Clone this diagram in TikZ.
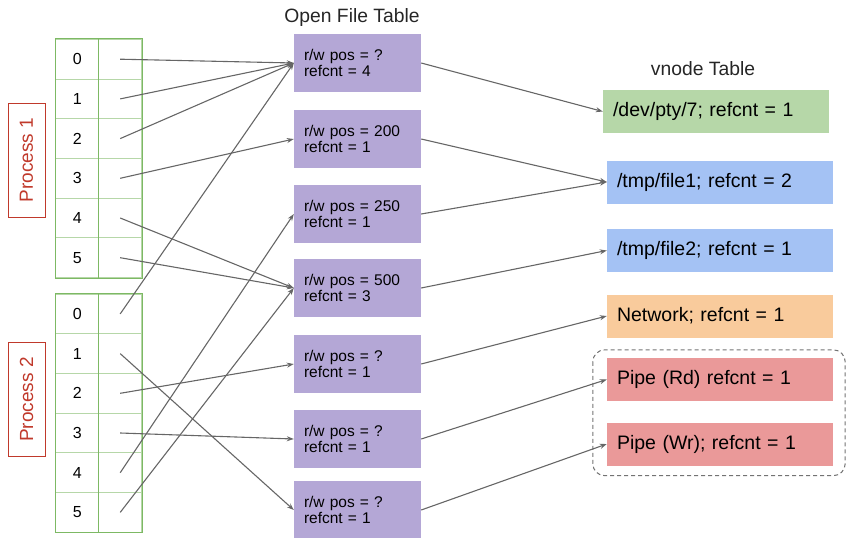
\documentclass[tikz,border=0pt]{standalone}
\usepackage{fontspec}
\setmainfont{Liberation Sans}
\usetikzlibrary{arrows.meta,calc}

\definecolor{tableline}{HTML}{B6D7A8}
\definecolor{tableedge}{HTML}{7DB964}
\definecolor{procred}{HTML}{C0392B}
\definecolor{oftpurple}{HTML}{B4A7D6}
\definecolor{vgreen}{HTML}{B6D7A8}
\definecolor{vblue}{HTML}{A4C2F4}
\definecolor{vorange}{HTML}{F9CB9C}
\definecolor{vred}{HTML}{EA9999}
\definecolor{linkgray}{HTML}{666666}

\begin{document}
\begin{tikzpicture}[x=1pt,y=-1pt,>={Stealth[length=7pt,width=5pt]}]

\tikzset{%
fd number/.style={
rectangle,
draw=tableline,
line width=1pt,
minimum width=43,
minimum height=39.7,
inner sep=0,
font=\fontsize{16}{16}\selectfont
},
fd cell/.style={
fd number
},
table frame/.style={
draw=tableedge,
line width=1pt
},
process label/.style={
rectangle,
draw=procred,
line width=1pt,
text=procred,
rotate=90,
minimum width=114,
minimum height=37,
inner sep=0,
font=\fontsize{19}{19}\selectfont
},
table title/.style={
font=\fontsize{19.3}{19.3}\selectfont,
text=black!85
},
oft box/.style={
rectangle,
fill=oftpurple,
text width=107,
inner xsep=10,
minimum height=57.5,
align=left,
font=\fontsize{15.5}{16}\selectfont
},
vnode box/.style={
rectangle,
text width=206,
inner xsep=10,
minimum height=43,
align=left,
font=\fontsize{19.5}{19.5}\selectfont
},
link/.style={
->,
draw=linkgray,
line width=1.1pt
},
pipe group/.style={
draw=black!55,
line width=1pt,
dash pattern=on 4pt off 3pt,
rounded corners=12pt
},
}

\useasboundingbox (0,0) rectangle (846,538);

% File descriptor tables of both processes
\foreach \p/\top in {1/59.2, 2/313.9}
\foreach \i in {0,...,5} {
\node [fd number] (proc\p-num-\i) at (77.2, \top+39.7*\i) {\i};
\node [fd cell] (proc\p-fd-\i) at (120.2, \top+39.7*\i) {};
}

% Outer frame and divider of each table
\foreach \p in {1,2} {
\draw [table frame] (proc\p-num-0.north west) rectangle (proc\p-fd-5.south east);
\draw [table frame] (proc\p-fd-0.north west) -- (proc\p-fd-5.south west);
}

% Process labels
\node [process label] (proc1-label) at (26.5,160) {Process 1};
\node [process label] (proc2-label) at (26.5,399.5) {Process 2};

% Open file table entries
\node [table title, anchor=base] (oft-title) at (352,23) {Open File Table};
\foreach \pos/\cnt/\y [count=\f] in {?/4/63, 200/1/139, 250/1/214, 500/3/288, ?/1/364, ?/1/439, ?/1/510}
\node [oft box] (oft-\f) at (357.5,\y) {r/w pos = \pos\\refcnt = \cnt};

% vnode table entries
\node [table title, anchor=base] (vnode-title) at (703,75) {vnode Table};
\node [vnode box, fill=vgreen] (vnode-pty) at (716,111.5) {/dev/pty/7; refcnt = 1};
\node [vnode box, fill=vblue] (vnode-file1) at (720,182) {/tmp/file1; refcnt = 2};
\node [vnode box, fill=vblue] (vnode-file2) at (720,250.5) {/tmp/file2; refcnt = 1};
\node [vnode box, fill=vorange] (vnode-net) at (720,316) {Network; refcnt = 1};
\node [vnode box, fill=vred] (vnode-piperd) at (720,379.5) {Pipe (Rd) refcnt = 1};
\node [vnode box, fill=vred] (vnode-pipewr) at (720,444) {Pipe (Wr); refcnt = 1};

% Both ends of the pipe
\draw [pipe group] ($(vnode-piperd.north west)+(-14,-8)$) rectangle ($(vnode-pipewr.south east)+(12,10)$);

% Process 1 descriptors into the open file table
\foreach \i/\f in {0/1, 1/1, 2/1, 3/2, 4/4, 5/4}
\draw [link] (proc1-fd-\i.center) -- (oft-\f.west);

% Process 2 descriptors into the open file table
\foreach \i/\f in {0/1, 1/7, 2/5, 3/6, 4/3, 5/4}
\draw [link] (proc2-fd-\i.center) -- (oft-\f.west);

% Open file table into the vnode table
\foreach \f/\v in {1/pty, 2/file1, 3/file1, 4/file2, 5/net, 6/piperd, 7/pipewr}
\draw [link] (oft-\f.east) -- (vnode-\v.west);

\end{tikzpicture}
\end{document}
